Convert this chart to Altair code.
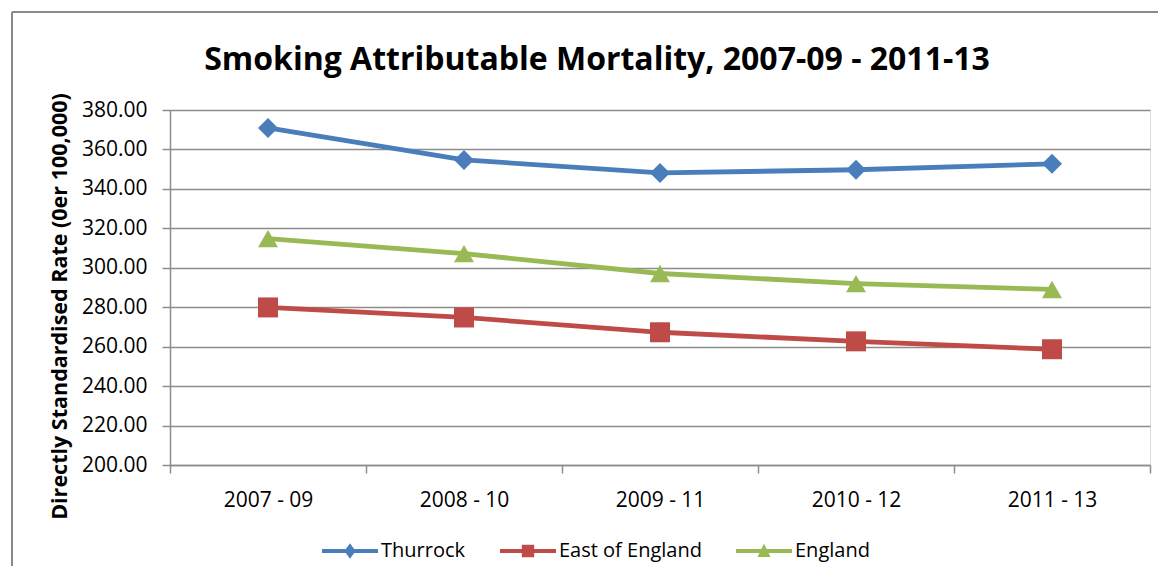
import altair as alt
import pandas as pd

periods = ["2007 - 09", "2008 - 10", "2009 - 11", "2010 - 12", "2011 - 13"]
thurrock = [370.9, 354.7, 348.1, 349.7, 352.7]
east_of_england = [279.9, 274.8, 267.3, 262.7, 258.7]
england = [314.8, 307.2, 297.1, 292.0, 289.0]
series_names = ["Thurrock", "East of England", "England"]
series_colors = ["#4A7EBB", "#BE4B48", "#98B954"]
marker_shapes = ["diamond", "square", "triangle-up"]
y_ticks = [200, 220, 240, 260, 280, 300, 320, 340, 360, 380]

# legend symbols: a horizontal bar with the marker in the middle (unit box -1..1)
legend_paths = [
    "M-1,-0.075L1,-0.075L1,0.075L-1,0.075Z M-0.2,0L0,-0.28L0.2,0L0,0.28Z",
    "M-1,-0.075L1,-0.075L1,0.075L-1,0.075Z M-0.22,-0.22L0.22,-0.22L0.22,0.22L-0.22,0.22Z",
    "M-1,-0.075L1,-0.075L1,0.075L-1,0.075Z M0,-0.27L0.23,0.21L-0.23,0.21Z",
]

rows = []
for name, vals in zip(series_names, [thurrock, east_of_england, england]):
    for p, v in zip(periods, vals):
        rows.append({"period": p, "series": name, "legend_series": name, "value": v})
df = pd.DataFrame(rows)

FONT = "Open Sans"
GRID = "#8C8C8C"

x_enc = alt.X(
    "period:N",
    sort=periods,
    bandPosition=0.5,
    scale=alt.Scale(type="band", domain=periods, paddingInner=0, paddingOuter=0),
    axis=alt.Axis(
        title=None, labelAngle=0, tickBand="extent", tickSize=8, tickColor=GRID,
        domainColor=GRID, domainWidth=1.5, tickWidth=1.5, labelPadding=16,
        labelFont=FONT, labelFontSize=21, labelColor="black", grid=False,
    ),
)
y_enc = alt.Y(
    "value:Q",
    scale=alt.Scale(domain=[200, 380], nice=False, zero=False),
    axis=alt.Axis(
        values=y_ticks, format=".2f", tickSize=8, tickColor=GRID, tickWidth=1.5,
        domainColor=GRID, domainWidth=1.5, grid=True, gridColor=GRID, gridWidth=1.5,
        labelPadding=15, labelFont=FONT, labelFontSize=21, labelColor="black",
        title="Directly Standardised Rate (0er 100,000)", titleFont=FONT,
        titleFontSize=21.5, titleFontWeight="bold", titleColor="black",
        titleAngle=-90, titleX=-110, titleY=196, titleAlign="center",
        titleBaseline="middle",
    ),
)
color_enc = alt.Color(
    "series:N", scale=alt.Scale(domain=series_names, range=series_colors), legend=None
)

# outer chart frame (left and top edges; right and bottom run off the page)
frame_left = alt.Chart(df).mark_rule(stroke="#8A8A8A", strokeWidth=2).encode(
    x=alt.value(-158), y=alt.value(-98), y2=alt.value(700)
)
frame_top = alt.Chart(df).mark_rule(stroke="#8A8A8A", strokeWidth=2).encode(
    x=alt.value(-158), x2=alt.value(1200), y=alt.value(-98)
)

lines = alt.Chart(df).mark_line(strokeWidth=4.8).encode(
    x=x_enc, y=y_enc, color=color_enc, detail="series:N"
)

points = alt.Chart(df).mark_point(filled=True, opacity=1, size=400).encode(
    x=x_enc,
    y=y_enc,
    color=color_enc,
    shape=alt.Shape(
        "series:N", scale=alt.Scale(domain=series_names, range=marker_shapes), legend=None
    ),
)

legend_props = dict(
    title=None, orient="none", direction="horizontal", legendX=152,
    legendY=413, symbolSize=3136, symbolStrokeWidth=0, labelOffset=3,
    columnPadding=34, labelFont=FONT, labelFontSize=20, labelColor="black",
    symbolOpacity=1,
)
legend_layer = alt.Chart(df).mark_point(filled=True, size=0, opacity=1).encode(
    x=x_enc,
    y=y_enc,
    color=alt.Color(
        "legend_series:N",
        scale=alt.Scale(domain=series_names, range=series_colors),
        legend=alt.Legend(**legend_props),
    ),
    shape=alt.Shape(
        "legend_series:N",
        scale=alt.Scale(domain=series_names, range=legend_paths),
        legend=alt.Legend(**legend_props),
    ),
)

chart = alt.layer(frame_left, frame_top, lines, points, legend_layer).resolve_scale(
    color="independent", shape="independent"
).properties(
    width=980,
    height=355,
    padding={"left": 162, "top": 102, "right": 8, "bottom": 101},
    autosize=alt.AutoSizeParams(type="none"),
    title=alt.Title(
        "Smoking Attributable Mortality, 2007-09 - 2011-13",
        font=FONT, fontSize=32, fontWeight="bold", color="black",
        anchor="middle", frame="group", offset=34, dx=-63, dy=100,
    ),
).configure_view(stroke=None).configure(background="white")

chart.save("out.html", embed_options={"renderer": "svg", "actions": False})
